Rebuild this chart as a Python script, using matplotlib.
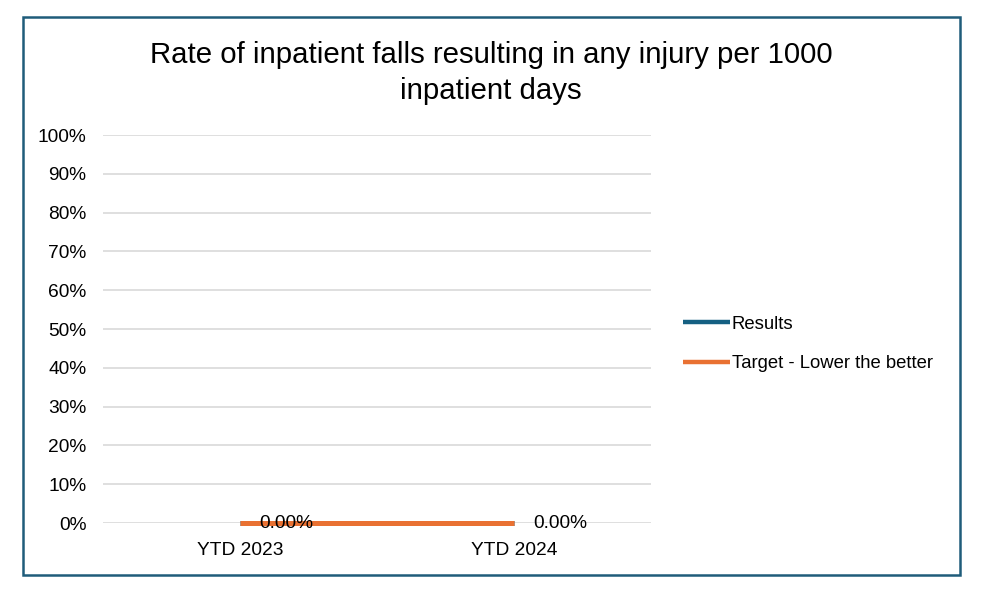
import numpy as np
import matplotlib.pyplot as plt
from matplotlib.patches import Rectangle
from matplotlib.ticker import PercentFormatter

categories = ["YTD 2023", "YTD 2024"]
results = [0.0, 0.0]
target = [0.0, 0.0]
title = "Rate of inpatient falls resulting in any injury per 1000\ninpatient days"

blue = "#156082"
orange = "#E97132"
plt.rcParams['font.family'] = ['Liberation Sans', 'DejaVu Sans']

fig = plt.figure(figsize=(9.85, 5.89), dpi=100)
ax = fig.add_axes([103 / 985, 1 - 523 / 589, (651 - 103) / 985, (523 - 135) / 589])

x = np.arange(len(categories))
ax.plot(x, results, color=blue, linewidth=3.6, solid_capstyle='butt', label="Results",
        zorder=3, clip_on=False)
ax.plot(x, target, color=orange, linewidth=3.6, solid_capstyle='butt',
        label="Target - Lower the better", zorder=4, clip_on=False)
for xi, v in zip(x, results):
    ax.annotate(f"{v:.2f}%", (xi, v), xytext=(14, 0), textcoords='offset points',
                ha='left', va='center', fontsize=13.8, color='black', zorder=5,
                annotation_clip=False)

ax.set_xlim(-0.5, 1.5)
ax.set_ylim(0, 1)
ax.set_yticks(np.arange(0, 1.01, 0.1))
ax.yaxis.set_major_formatter(PercentFormatter(1.0, decimals=0))
ax.set_xticks(x)
ax.set_xticklabels(categories)
ax.tick_params(axis='both', length=0, labelsize=13.8)
ax.tick_params(axis='y', pad=12)
ax.tick_params(axis='x', pad=14)
ax.grid(axis='y', color='#D9D9D9', linewidth=1.2)
ax.set_axisbelow(True)
for s in ax.spines.values():
    s.set_visible(False)

fig.text(491 / 985, 1 - 73 / 589, title, ha='center', va='center', fontsize=21.2, linespacing=1.32)

leg = fig.legend(loc='center left', bbox_to_anchor=(666 / 985, 1 - 344 / 589), frameon=False,
                 fontsize=13.3, handlelength=2.55, handletextpad=0.1, labelspacing=1.2)
for h in leg.get_lines():
    h.set_linewidth(3.2)

fig.patches.append(Rectangle((23 / 985, 1 - 575 / 589), (960 - 23) / 985, (575 - 17) / 589,
                             transform=fig.transFigure, fill=False, edgecolor='#1F5C7A',
                             linewidth=1.8))

fig.savefig("out.png", dpi=100)
